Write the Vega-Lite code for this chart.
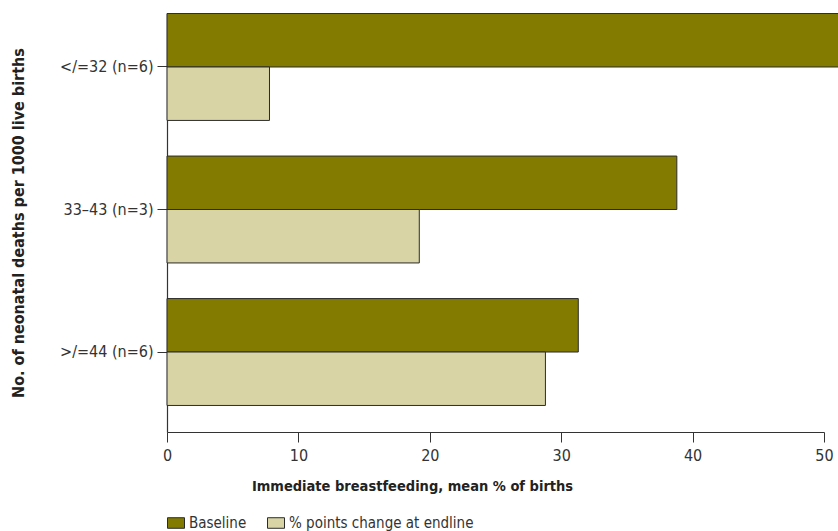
{
  "$schema": "https://vega.github.io/schema/vega-lite/v6.json",
  "autosize": {"type": "none"},
  "padding": {"left": 167, "top": 13, "right": 14, "bottom": 99},
  "width": 657,
  "height": 419,
  "background": "white",
  "config": {
    "font": "DejaVu Sans Condensed, Roboto, sans-serif",
    "view": {"stroke": null}
  },
  "data": {
    "values": [
      {"group": "</=32 (n=6)", "series": "Baseline", "value": 52},
      {"group": "</=32 (n=6)", "series": "% points change at endline", "value": 7.8},
      {"group": "33\u201343 (n=3)", "series": "Baseline", "value": 38.8},
      {"group": "33\u201343 (n=3)", "series": "% points change at endline", "value": 19.2},
      {"group": ">/=44 (n=6)", "series": "Baseline", "value": 31.3},
      {"group": ">/=44 (n=6)", "series": "% points change at endline", "value": 28.8}
    ]
  },
  "mark": {"type": "bar", "stroke": "#2b2b2b", "strokeWidth": 1},
  "encoding": {
    "y": {
      "field": "group",
      "type": "nominal",
      "sort": ["</=32 (n=6)", "33\u201343 (n=3)", ">/=44 (n=6)"],
      "scale": {"paddingInner": 0.25, "paddingOuter": 0.095, "align": 0.02},
      "axis": {
        "title": "No. of neonatal deaths per 1000 live births",
        "titleFontSize": 16,
        "titleFontWeight": "bold",
        "titleColor": "#222",
        "titlePadding": 33,
        "labelFontSize": 16,
        "labelColor": "#333",
        "labelPadding": 4,
        "tickSize": 10,
        "tickColor": "#333",
        "domainColor": "#333",
        "domainWidth": 1.2
      }
    },
    "yOffset": {
      "field": "series",
      "type": "nominal",
      "sort": ["Baseline", "% points change at endline"],
      "scale": {"paddingInner": 0, "paddingOuter": 0}
    },
    "x": {
      "field": "value",
      "type": "quantitative",
      "scale": {"domain": [0, 50], "nice": false},
      "axis": {
        "values": [0, 10, 20, 30, 40, 50],
        "grid": false,
        "labelFlush": false,
        "title": "Immediate breastfeeding, mean % of births",
        "titleFontSize": 14.5,
        "titleFontWeight": "bold",
        "titleColor": "#222",
        "titleX": 245,
        "titleY": 47,
        "labelFontSize": 16,
        "labelColor": "#333",
        "labelPadding": 5,
        "tickSize": 10,
        "tickColor": "#333",
        "domainColor": "#333",
        "domainWidth": 1.2
      }
    },
    "color": {
      "field": "series",
      "type": "nominal",
      "sort": ["Baseline", "% points change at endline"],
      "scale": {
        "domain": ["Baseline", "% points change at endline"],
        "range": ["#837b00", "#d8d4a6"]
      },
      "legend": {
        "title": null,
        "orient": "none",
        "direction": "horizontal",
        "legendX": 0,
        "legendY": 501,
        "symbolType": "M-1,-0.62H1V0.62H-1Z",
        "symbolSize": 289,
        "symbolStrokeColor": "#2b2b2b",
        "symbolStrokeWidth": 1,
        "labelFontSize": 15,
        "labelColor": "#333",
        "labelLimit": 0,
        "columnPadding": 18
      }
    }
  }
}
